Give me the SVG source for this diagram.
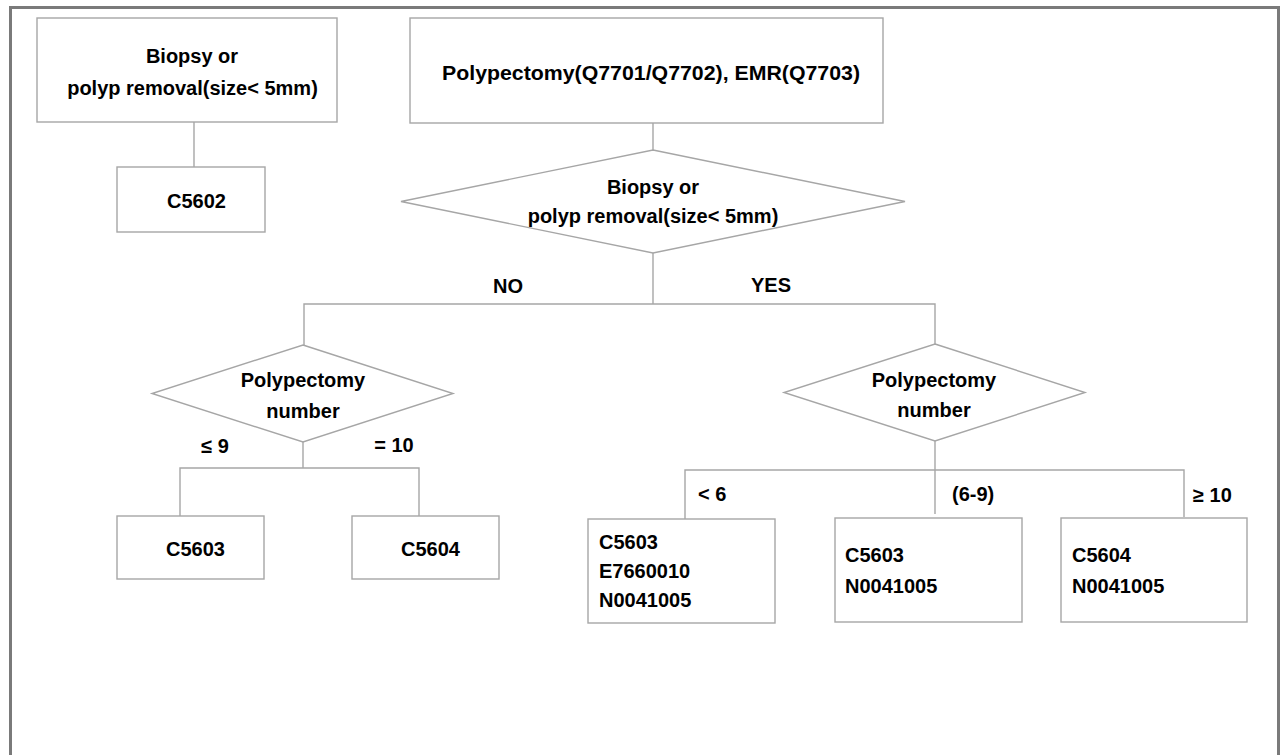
<svg xmlns="http://www.w3.org/2000/svg" width="1280" height="755" viewBox="0 0 1280 755">
<style>
.bg{fill:#ffffff}
.frame{fill:none;stroke:#7a7a7a;stroke-width:3}
.box{fill:#ffffff;stroke:#a6a6a6;stroke-width:1.4}
.ln{fill:none;stroke:#a6a6a6;stroke-width:1.4}
text{font-family:"Liberation Sans",Arial,sans-serif;font-weight:bold;font-size:20px;fill:#000000}
.c{text-anchor:middle}
</style>
<rect class="bg" x="0" y="0" width="1280" height="755"/>
<rect class="frame" x="10.5" y="7.5" width="1268" height="760"/>
<g id="connectors">
<line class="ln" x1="194" y1="122" x2="194" y2="167"/>
<line class="ln" x1="653" y1="123" x2="653" y2="150"/>
<line class="ln" x1="653" y1="253" x2="653" y2="304"/>
<polyline class="ln" points="304,345 304,304 935,304 935,344"/>
<line class="ln" x1="303" y1="442" x2="303" y2="468"/>
<polyline class="ln" points="180,516 180,468 419,468 419,516"/>
<line class="ln" x1="935" y1="441" x2="935" y2="470"/>
<polyline class="ln" points="685,519 685,470 1184,470 1184,517"/>
<line class="ln" x1="935" y1="470" x2="935" y2="514"/>
</g>
<g id="labels">
<text x="508" y="293" class="c">NO</text>
<text x="771" y="292" class="c">YES</text>
<text x="215" y="453" class="c" font-size="21">≤ 9</text>
<text x="394" y="452" class="c">= 10</text>
<text x="698" y="501">&lt; 6</text>
<text x="952" y="501">(6-9)</text>
<text x="1193" y="502" font-size="21">≥ 10</text>
</g>
<g id="n-biopsy">
<rect class="box" x="37" y="18" width="300" height="104"/>
<text x="192" y="63" class="c" font-size="21">Biopsy or</text>
<text x="192.5" y="95" class="c" font-size="21">polyp removal(size&lt; 5mm)</text>
</g>
<g id="n-c5602">
<rect class="box" x="117" y="167" width="148" height="65"/>
<text x="196.5" y="208" class="c">C5602</text>
</g>
<g id="n-polypectomy">
<rect class="box" x="410" y="18" width="473" height="105"/>
<text x="651" y="80" class="c" font-size="23" textLength="418" lengthAdjust="spacingAndGlyphs">Polypectomy(Q7701/Q7702), EMR(Q7703)</text>
</g>
<g id="d-biopsy">
<polygon class="box" points="653,150 905,201.5 653,253 401,201.5"/>
<text x="653" y="194" class="c">Biopsy or</text>
<text x="653" y="223" class="c">polyp removal(size&lt; 5mm)</text>
</g>
<g id="d-number-no">
<polygon class="box" points="303,345 453,393.5 303,442 152,393.5"/>
<text x="303" y="387" class="c" font-size="19.5">Polypectomy</text>
<text x="303" y="418" class="c" font-size="19.5">number</text>
</g>
<g id="n-c5603-a">
<rect class="box" x="117" y="516" width="147" height="63"/>
<text x="195.5" y="556" class="c">C5603</text>
</g>
<g id="n-c5604-a">
<rect class="box" x="352" y="516" width="147" height="63"/>
<text x="430.5" y="556" class="c">C5604</text>
</g>
<g id="d-number-yes">
<polygon class="box" points="935,344 1085,392.5 935,441 784,392.5"/>
<text x="934" y="387" class="c">Polypectomy</text>
<text x="934" y="417" class="c">number</text>
</g>
<g id="n-lt6">
<rect class="box" x="588" y="519" width="187" height="104"/>
<text x="599" y="549">C5603</text>
<text x="599" y="578">E7660010</text>
<text x="599" y="607">N0041005</text>
</g>
<g id="n-6to9">
<rect class="box" x="835" y="518" width="187" height="104"/>
<text x="845" y="562">C5603</text>
<text x="845" y="593">N0041005</text>
</g>
<g id="n-ge10">
<rect class="box" x="1061" y="518" width="186" height="104"/>
<text x="1072" y="562">C5604</text>
<text x="1072" y="593">N0041005</text>
</g>
</svg>
